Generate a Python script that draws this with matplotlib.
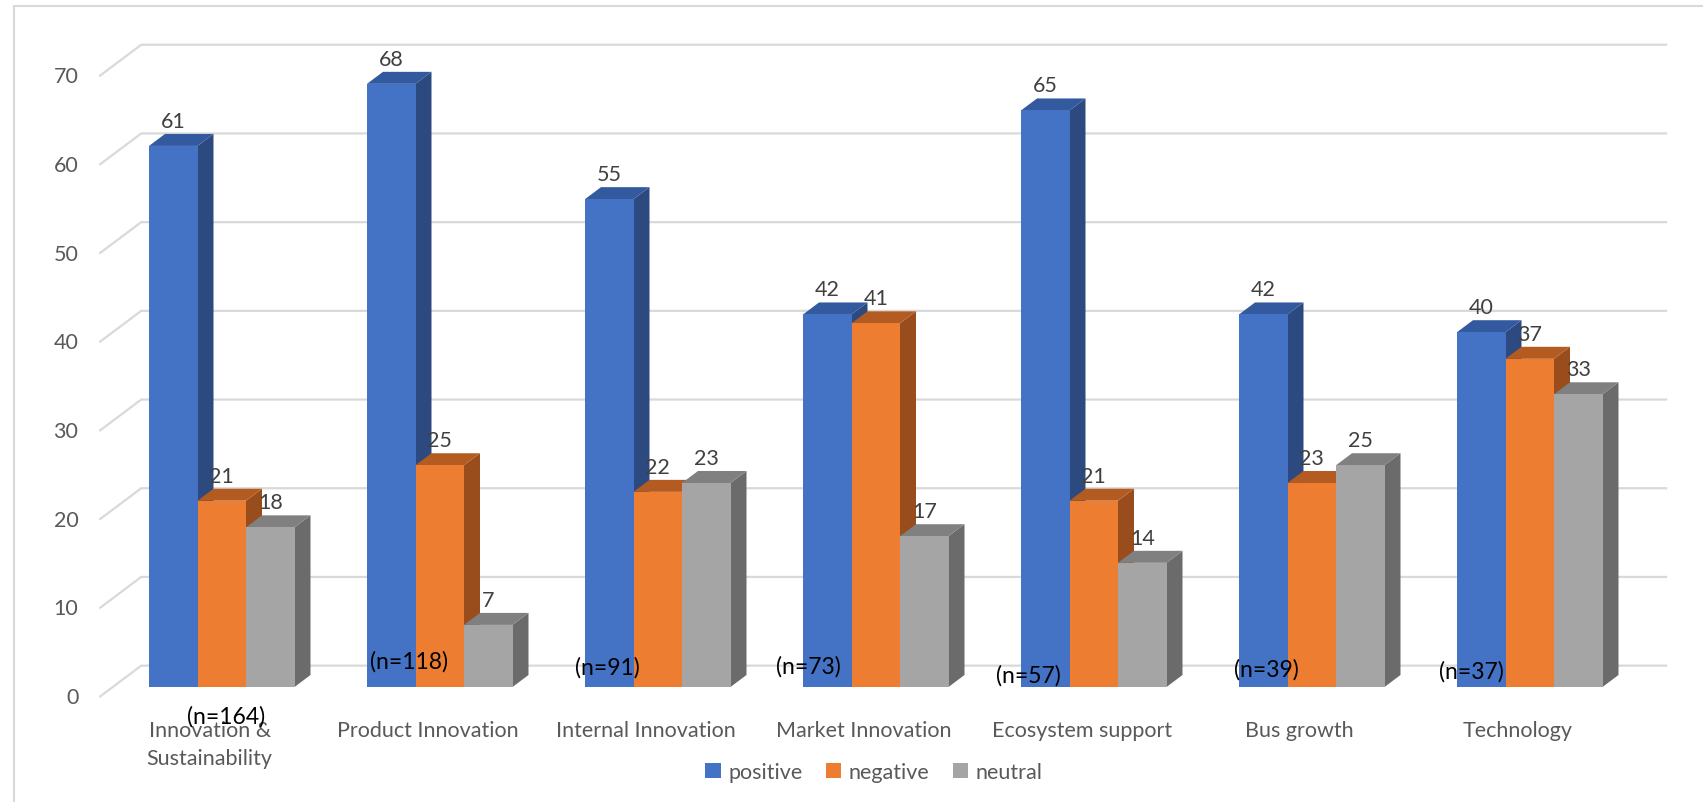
import matplotlib.pyplot as plt
from matplotlib.patches import Polygon, Rectangle, Patch

plt.rcParams['font.family'] = ['Lato', 'DejaVu Sans']

# -----------------------------
# DATA
# -----------------------------
categories = ['Innovation &\nSustainability', 'Product Innovation', 'Internal Innovation',
              'Market Innovation', 'Ecosystem support', 'Bus growth', 'Technology']
n_values = [164, 118, 91, 73, 57, 39, 37]
positive = [61, 68, 55, 42, 65, 42, 40]
negative = [21, 25, 22, 41, 21, 23, 37]
neutral = [18, 7, 23, 17, 14, 25, 33]
series_names = ['positive', 'negative', 'neutral']
yticks = [0, 10, 20, 30, 40, 50, 60, 70]

# layout of the hand-placed "(n=...)" boxes, relative to the group centre
n_label_offsets = [(0.02, -3.3), (-0.14, 2.9), (-0.23, 2.25), (-0.31, 2.4),
                   (-0.30, 1.35), (-0.21, 2.0), (-0.27, 1.8)]

# colours: front, side, top
colors = [('#4472C4', '#2C4A80', '#335A9E'),
          ('#ED7D31', '#9A4D1C', '#B45B22'),
          ('#A5A5A5', '#6B6B6B', '#808080')]
GRID = '#D9D9D9'
TEXT = '#595959'

# -----------------------------
# FIGURE / AXES (pixel-matched)
# -----------------------------
W, H = 1703, 803
PX_X = 218.0      # px per category
PX_Y = 8.87       # px per value unit
X0 = 221.75       # px of first group centre
Y0 = 688.0        # px (from top) of value 0 at bar front

fig = plt.figure(figsize=(W / 100, H / 100), dpi=100)
ax = fig.add_axes([0, 0, 1, 1])
ax.set_xlim(-X0 / PX_X, (W - X0) / PX_X)
ax.set_ylim(-(H - Y0) / PX_Y, Y0 / PX_Y)
ax.axis('off')

# depth vector for one bar depth (16 px right, 12 px up)
DX = 16 / PX_X
DY = 12 / PX_Y
WALL = 1.78
FRONT = -0.84
bar_w = 48.5 / PX_X
nseries = 3
left_edge = -0.5
right_edge = len(categories) - 0.5

# outer chart border (left + top only visible)
fig.patches.append(Rectangle((14 / W, -0.1), 1.2, 1.1 - 7 / H, transform=fig.transFigure,
                             fill=False, edgecolor=GRID, lw=1.5))

# -----------------------------
# GRID / WALLS
# -----------------------------
for v in yticks:
    ax.plot([left_edge + FRONT * DX, left_edge + WALL * DX, right_edge + WALL * DX],
            [v + FRONT * DY, v + WALL * DY, v + WALL * DY],
            color=GRID, lw=1.6, zorder=1, solid_capstyle='butt')
    ax.text(left_edge + FRONT * DX - 21 / PX_X, v + FRONT * DY, str(v),
            ha='right', va='center', fontsize=15.5, color=TEXT)

# -----------------------------
# BARS
# -----------------------------
all_series = [positive, negative, neutral]
for i in range(len(categories)):
    start = i - nseries * bar_w / 2
    for s, vals in enumerate(all_series):
        v = vals[i]
        x0 = start + s * bar_w
        x1 = x0 + bar_w
        front, side, top = colors[s]
        z = 3 + i * 10 + s
        ax.add_patch(Polygon([(x1, 0), (x1, v), (x1 + DX, v + DY), (x1 + DX, DY)],
                             closed=True, facecolor=side, edgecolor='none', zorder=z))
        ax.add_patch(Polygon([(x0, v), (x1, v), (x1 + DX, v + DY), (x0 + DX, v + DY)],
                             closed=True, facecolor=top, edgecolor='none', zorder=z))
        ax.add_patch(Rectangle((x0, 0), bar_w, v, facecolor=front,
                               edgecolor='none', zorder=z))
        ax.text((x0 + x1) / 2, v + DY + 13 / PX_Y, str(v), ha='center', va='center',
                fontsize=15.5, color='#404040', zorder=100)

    ax.text(i - 0.055, -3.75, categories[i], ha='center', va='top', fontsize=15.5,
            color=TEXT, linespacing=1.5, zorder=90)
    ox, oy = n_label_offsets[i]
    ax.text(i + ox, oy, f'(n={n_values[i]})', ha='center', va='center',
            fontsize=16.5, color='black', zorder=110)

# -----------------------------
# LEGEND
# -----------------------------
handles = [Patch(facecolor=colors[k][0], edgecolor='none') for k in range(nseries)]
fig.legend(handles, series_names, loc='center', bbox_to_anchor=(874 / W, 1 - 773 / H),
           ncol=3, frameon=False, fontsize=15.5, labelcolor=TEXT,
           handlelength=0.7, handleheight=0.7, handletextpad=0.35, columnspacing=1.1)

fig.savefig('out.png', dpi=100)
